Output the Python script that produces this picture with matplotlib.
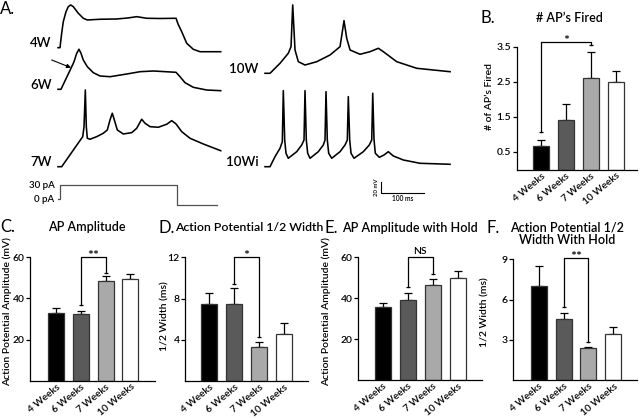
import matplotlib
matplotlib.use('Agg')
import matplotlib.pyplot as plt

plt.rcParams['font.family'] = ['Lato', 'DejaVu Sans']
plt.rcParams['font.weight'] = 'semibold'

# ---------------- data ----------------
groups = ['4 Weeks', '6 Weeks', '7 Weeks', '10 Weeks']
bar_colors = ['#000000', '#5a5a5a', '#a9a9a9', '#ffffff']

ap_fired_mean = [0.68, 1.41, 2.60, 2.50]
ap_fired_sem = [0.16, 0.46, 0.75, 0.32]
amp_mean = [32.8, 32.4, 48.5, 49.3]
amp_sem = [2.4, 1.4, 2.4, 2.6]
width_mean = [7.45, 7.47, 3.33, 4.53]
width_sem = [1.12, 1.53, 0.43, 1.07]
amp_hold_mean = [35.8, 39.3, 46.3, 50.1]
amp_hold_sem = [1.9, 3.0, 3.0, 3.2]
width_hold_mean = [7.0, 4.53, 2.37, 3.43]
width_hold_sem = [1.48, 0.45, 0.12, 0.50]

# significance brackets: (group a, group b, top, left leg end, right leg end, label)
ap_fired_sig = (0, 2, 3.63, 1.07, 3.54, '*')
amp_sig = (1, 2, 60.3, 36.8, 52.2, '**')
width_sig = (1, 2, 12.0, 9.4, 4.24, '*')
amp_hold_sig = (1, 2, 60.3, 45.5, 51.7, 'NS')
width_hold_sig = (1, 2, 9.13, 5.43, 2.84, '**')

# voltage traces: time (ms) and membrane potential relative to baseline (mV)
t_4w = [0, 4.6, 8.5, 12.2, 18.5, 23.8, 29.3, 35.3, 46.9, 58.4, 67.7, 97, 135.6, 161.7,
        181.8, 204.9, 235.6, 272.6, 277.2, 285.7, 297.3, 312.5, 328, 375.8]
v_4w = [0, 0, 26.2, 47.3, 65.5, 74.6, 77.7, 74.6, 62.6, 53.5, 50.4, 51.7, 52.2, 54.1,
        56.4, 53.5, 53.1, 53.5, 43.1, 29.1, 8, -2.9, -7.3, -7.3]

t_6w = [0, 6.9, 30, 37, 43.2, 48.5, 53.1, 58.4, 67.7, 81.5, 97, 120.1, 158.7, 189.4,
        220.1, 272.6, 281.8, 293.4, 312.5, 343.5, 375.8]
v_6w = [0, 0, 38.2, 50.2, 65.5, 72.8, 65.5, 53.3, 41.1, 30.2, 24.2, 22.9, 27.8, 32,
        33.3, 30.9, 22.9, 12, 3.6, -1.3, -2.5]

t_7w = [0, 8.5, 57.1, 60.1, 63.1, 65.4, 67.7, 73.9, 89.4, 104.6, 113.9, 120.1, 125.4,
        130.1, 137, 150.8, 170.2, 181.8, 193.3, 201, 212.5, 231.7, 251.1, 262.6, 272.6,
        285.7, 304.9, 335.6, 375.8]
v_7w = [0, 0, 54.6, 72.8, 139.6, 72.8, 51.7, 49.9, 54.6, 60.8, 66.8, 85, 97.2,
        85, 66.8, 59.5, 61.9, 69.9, 86.3, 79, 72.8, 71.7, 77.2, 83.7, 77.7,
        63.7, 51.7, 41.3, 29.1]

t_10w = [0, 11.6, 34.7, 53.8, 60.1, 64, 69.3, 77, 92.4, 119.4, 150.2, 173.3, 182.5,
         188.7, 196.4, 219.5, 242.6, 261.7, 273.3, 304.2, 350.4, 427.4]
v_10w = [0, 0, 18.2, 36.4, 48.4, 124.3, 42.4, 21.1, 15.1, 21.1, 33.3, 48.4, 95.7,
         63.7, 42.4, 34.6, 39.3, 45.5, 39.3, 21.1, 9.1, 2.9]

t_10wi = [0, 11.6, 23.1, 34.7, 40, 42.3, 45.5, 48.5, 53.8, 73.2, 84.8, 90.1, 92.4, 95.4,
          98.6, 104, 123.1, 134.7, 138.6, 140.9, 143.9, 147.1, 154.1, 173.3, 184.8, 190.1,
          192.4, 195.6, 198.7, 205.6, 227.1, 240.9, 246.5, 248.8, 251.8, 254.8, 264,
          274.9, 284.8, 296.4, 319.5, 358.1, 427.4]
v_10wi = [0, 0, 18.2, 33.5, 45.5, 138.3, 48.6, 24.4, 15.3, 27.3, 39.5, 48.6, 138.3, 48.6,
          24.4, 15.3, 27.3, 39.5, 48.6, 136.5, 48.6, 24.4, 15.3, 27.3, 39.5, 48.6,
          127.4, 48.6, 24.4, 15.3, 27.3, 39.5, 48.6, 133.6, 48.6, 24.4, 17.1,
          21.3, 27.3, 19.5, 12.2, 6.2, 4.4]

t_step = [0, 4.6, 4.6, 274.2, 274.2, 368]
i_step = [0, 0, 30, 30, -12, -12]

# ---------------- layout helpers ----------------
W, H = 640, 418
fig = plt.figure(figsize=(6.4, 4.18), dpi=100)


def rect(l, t, r, b):
    return [l / W, 1 - b / H, (r - l) / W, (b - t) / H]


def ftext(x, y, s, **kw):
    fig.text(x / W, 1 - y / H, s, **kw)


MS_PER_PX = 100 / 43.3
MV_PER_PX = 20 / 11
PA_PER_PX = 30 / 14.3


def unit_axes(x0, y0, xs, ys, left=60, right=240, up=100, down=40):
    ax = fig.add_axes(rect(x0 - left, y0 - up, x0 + right, y0 + down))
    ax.set_xlim(-left * xs, right * xs)
    ax.set_ylim(-down * ys, up * ys)
    ax.axis('off')
    ax.patch.set_visible(False)
    return ax


trace_kw = dict(color='black', lw=1.15, clip_on=False, solid_joinstyle='round')

# ---------------- panel A ----------------
ftext(0, 9, 'A.', fontsize=12, weight='normal', va='center', ha='left')

traces = [(58, 47.7, t_4w, v_4w, '4W'), (58, 89.3, t_6w, v_6w, '6W'),
          (58, 166.7, t_7w, v_7w, '7W'), (265, 73.3, t_10w, v_10w, '10W'),
          (265, 166.7, t_10wi, v_10wi, '10Wi')]
trace_axes = {}
for x0, y0, t, v, lab in traces:
    ax = unit_axes(x0, y0, MS_PER_PX, MV_PER_PX)
    ax.plot(t, v, **trace_kw)
    ax.annotate(lab, xy=(0, 0), xytext=(-4.5, 0.5), textcoords='offset points',
                ha='right', va='baseline', fontsize=9.5)
    trace_axes[lab] = ax

trace_axes['6W'].annotate('', xy=(30, 39.3), xytext=(-14.6, 53.3),
                          arrowprops=dict(arrowstyle='-|>', lw=0.8, color='black',
                                          mutation_scale=6, shrinkA=0, shrinkB=0))

step_ax = unit_axes(58, 199.3, MS_PER_PX, PA_PER_PX)
step_ax.plot(t_step, i_step, color='#505050', lw=0.9, clip_on=False)
step_ax.annotate('30 pA', xy=(0, 30), xytext=(-2.5, 0), textcoords='offset points',
                 ha='right', va='center', fontsize=7)
step_ax.annotate('0 pA', xy=(0, 0), xytext=(-2.5, 0), textcoords='offset points',
                 ha='right', va='center', fontsize=7)

sb_ax = unit_axes(381, 192.7, MS_PER_PX, MV_PER_PX)
sb_ax.plot([0, 0, 100], [20, 0, 0], color='black', lw=0.8, clip_on=False)
sb_ax.annotate('20 mV', xy=(0, 10), xytext=(-3.5, 0), textcoords='offset points',
               ha='center', va='center', rotation=90, fontsize=4.3)
sb_ax.annotate('100 ms', xy=(50, 0), xytext=(0, -2), textcoords='offset points',
               ha='center', va='top', fontsize=4.8)

# ---------------- bar panels ----------------


def bar_panel(px, xlim, ylim, yticks, yticklabels, means, sems, sig):
    ax = fig.add_axes(rect(*px))
    x = list(range(len(groups)))
    ax.errorbar(x, means, yerr=[[0] * 4, sems], fmt='none', ecolor='black',
                elinewidth=0.9, capsize=2.6, capthick=0.9, zorder=1)
    ax.bar(x, means, width=0.645, color=bar_colors, edgecolor='#333333',
           linewidth=0.9, zorder=2)
    ax.set_xlim(*xlim)
    ax.set_ylim(*ylim)
    for s in ('top', 'right'):
        ax.spines[s].set_visible(False)
    for s in ('left', 'bottom'):
        ax.spines[s].set_linewidth(0.9)
    ax.set_yticks(yticks)
    ax.set_yticklabels(yticklabels)
    ax.tick_params(axis='y', direction='out', length=3, width=0.9, labelsize=7.5, pad=1)
    ax.set_xticks(x)
    ax.set_xticklabels(groups, rotation=40, ha='right', va='top',
                       rotation_mode='anchor', fontsize=7.2)
    ax.tick_params(axis='x', length=0, pad=1.2)
    ax.patch.set_visible(False)
    a, b, top, lb, rb, lab = sig
    ax.plot([a, a, b, b], [lb, top, top, rb], color='black', lw=0.9, clip_on=False)
    ax.plot([a, b], [lb, rb], ls='none', marker='_', ms=3, mew=0.9, color='black',
            clip_on=False)
    if '*' in lab:
        ax.annotate(lab, xy=((a + b) / 2, top), xytext=(0, -2.2),
                    textcoords='offset points', ha='center', va='baseline',
                    fontsize=10, annotation_clip=False)
    else:
        ax.annotate(lab, xy=((a + b) / 2, top), xytext=(0, 0.3),
                    textcoords='offset points', ha='center', va='bottom',
                    fontsize=7.5, annotation_clip=False)
    return ax


# B
bar_panel((516.7, 46.7, 636.7, 169.5), (-0.97, 3.85), (0, 3.5),
          [0.5, 1.5, 2.5, 3.5], ['0.5', '1.5', '2.5', '3.5'],
          ap_fired_mean, ap_fired_sem, ap_fired_sig)
ftext(481, 18, 'B.', fontsize=12, weight='normal', va='center', ha='left')
ftext(569, 18.5, "# AP\u2019s Fired", fontsize=9, va='center', ha='center')
ftext(489, 97, "# of AP\u2019s Fired", fontsize=7.5, va='center', ha='center', rotation=90)

# C
bar_panel((30, 257.3, 155, 380.7), (-1.05, 3.99), (0, 60),
          [20, 40, 60], ['20', '40', '60'], amp_mean, amp_sem, amp_sig)
ftext(0, 226.7, 'C.', fontsize=12, weight='normal', va='center', ha='left')
ftext(86.7, 226.7, 'AP Amplitude', fontsize=9, va='center', ha='center')
ftext(7, 312, 'Action Potential Amplitude (mV)', fontsize=7.5, va='center', ha='center',
      rotation=90)

# D
bar_panel((185, 257.3, 308.3, 381), (-0.98, 3.99), (0, 12),
          [4, 8, 12], ['4', '8', '12'], width_mean, width_sem, width_sig)
ftext(158, 227.7, 'D.', fontsize=12, weight='normal', va='center', ha='left')
ftext(175, 227.7, 'Action Potential 1/2 Width', fontsize=8.8, va='center', ha='left')
ftext(165, 316, '1/2 Width (ms)', fontsize=7.5, va='center', ha='center', rotation=90)

# E
bar_panel((358.3, 257.3, 482, 380), (-0.98, 3.98), (0, 60),
          [20, 40, 60], ['20', '40', '60'], amp_hold_mean, amp_hold_sem, amp_hold_sig)
ftext(324, 227.7, 'E.', fontsize=12, weight='normal', va='center', ha='left')
ftext(410, 227.7, 'AP Amplitude with Hold', fontsize=9, va='center', ha='center')
ftext(326, 312, 'Action Potential Amplitude (mV)', fontsize=7.5, va='center', ha='center',
      rotation=90)

# F
bar_panel((513.3, 259.4, 636.7, 380), (-1.02, 3.94), (0, 9),
          [3, 6, 9], ['3', '6', '9'], width_hold_mean, width_hold_sem, width_hold_sig)
ftext(487, 227.5, 'F.', fontsize=12, weight='normal', va='center', ha='left')
ftext(567.5, 227, 'Action Potential 1/2', fontsize=9, va='center', ha='center')
ftext(567.5, 240, 'Width With Hold', fontsize=9, va='center', ha='center')
ftext(485, 312, '1/2 Width (ms)', fontsize=7.5, va='center', ha='center', rotation=90)

fig.savefig('out.png', dpi=100)
